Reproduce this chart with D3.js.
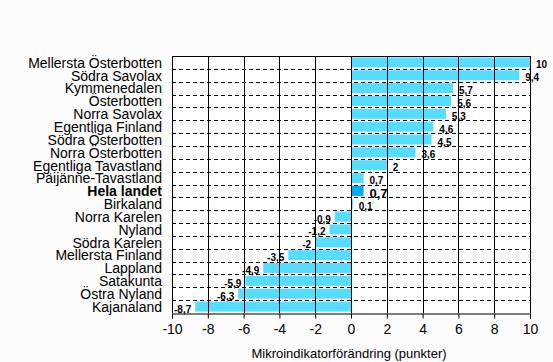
<!DOCTYPE html>
<html>
<head>
<meta charset="utf-8">
<script src="https://cdn.jsdelivr.net/npm/d3@7"></script>
<style>
  body { margin: 0; background: #fcfcfc; }
  svg { display: block; font-family: Arial, "Liberation Sans", sans-serif; }
</style>
</head>
<body>
<script>
// regions, top to bottom
let regions = ['Mellersta Österbotten', 'Södra Savolax', 'Kymmenedalen', 'Österbotten', 'Norra Savolax',
    'Egentliga Finland', 'Södra Österbotten', 'Norra Österbotten', 'Egentliga Tavastland', 'Päijänne-Tavastland',
    'Hela landet', 'Birkaland', 'Norra Karelen', 'Nyland', 'Södra Karelen', 'Mellersta Finland',
    'Lappland', 'Satakunta', 'Östra Nyland', 'Kajanaland'];
let change = [10, 9.4, 5.7, 5.6, 5.3, 4.6, 4.5, 3.6, 2, 0.7, 0.7, 0.1, -0.9, -1.2, -2, -3.5, -4.9, -5.9, -6.3, -8.7];
let xTicks = [-10, -8, -6, -4, -2, 0, 2, 4, 6, 8, 10];
let highlight = 'Hela landet';

let rows = regions.map(function (r, i) { return { name: r, value: change[i] } });

let width = 553, height = 362;
let plotLeft = 172, plotRight = 530, plotTop = 56, plotBottom = 313;

let svg = d3.select('body')
    .append('svg')
        .attr('width', width)
        .attr('height', height);

let x = d3.scaleLinear().domain([-10, 10]).range([plotLeft, plotRight]);
let y = d3.scaleBand().domain(regions).range([plotTop, plotBottom]).paddingInner(0.22).paddingOuter(0.11);
let gap = y.step() - y.bandwidth();

let fmt = function (v) { return String(v).replace('.', ',') };

// plot background
svg.append('rect')
    .attr('x', plotLeft).attr('y', plotTop)
    .attr('width', plotRight - plotLeft).attr('height', plotBottom - plotTop)
    .attr('fill', '#fff');

// dashed horizontal lines between rows
svg.append('g').selectAll('line')
    .data(regions.slice(1)).enter()
    .append('line')
        .attr('x1', plotLeft).attr('x2', plotRight)
        .attr('y1', function (d) { return Math.round(y(d) - gap / 2) + 0.5 })
        .attr('y2', function (d) { return Math.round(y(d) - gap / 2) + 0.5 })
        .attr('stroke', '#000')
        .attr('stroke-dasharray', '4,3');

// bars
svg.append('g').selectAll('rect')
    .data(rows).enter()
    .append('rect')
        .attr('x', function (d) { return x(Math.min(0, d.value)) })
        .attr('y', function (d) { return y(d.name) })
        .attr('width', function (d) { return Math.abs(x(d.value) - x(0)) })
        .attr('height', y.bandwidth())
        .attr('fill', function (d) { return d.name === highlight ? '#00aaee' : '#55dcff' });

// vertical solid grid lines
svg.append('g').selectAll('line')
    .data(xTicks).enter()
    .append('line')
        .attr('x1', function (d) { return Math.round(x(d)) + 0.5 })
        .attr('x2', function (d) { return Math.round(x(d)) + 0.5 })
        .attr('y1', plotTop).attr('y2', plotBottom)
        .attr('stroke', '#000');

// frame top
svg.append('line')
    .attr('x1', plotLeft).attr('x2', plotRight + 1)
    .attr('y1', plotTop + 0.5).attr('y2', plotTop + 0.5)
    .attr('stroke', '#000');

// x axis
let xAxis = svg.append('g')
    .attr('transform', 'translate(0,' + (plotBottom + 0.5) + ')')
    .call(d3.axisBottom(x).tickValues(xTicks).tickSize(5).tickFormat(function (d) { return d }));
xAxis.select('.domain').attr('stroke', '#000');
xAxis.selectAll('.tick line').attr('stroke', '#000');
xAxis.selectAll('.tick text')
    .attr('font-size', 14)
    .attr('fill', '#000')
    .attr('dy', '0.9em');

svg.append('text')
    .attr('x', x(0) - 2)
    .attr('y', 358)
    .attr('text-anchor', 'middle')
    .attr('font-size', 13)
    .attr('fill', '#000')
    .text('Mikroindikatorförändring (punkter)');

// category labels
svg.append('g').selectAll('text')
    .data(rows).enter()
    .append('text')
        .attr('x', 162)
        .attr('y', function (d) { return y(d.name) + y.bandwidth() / 2 })
        .attr('dy', '0.38em')
        .attr('text-anchor', 'end')
        .attr('font-size', 14)
        .attr('font-weight', function (d) { return d.name === highlight ? 'bold' : 'normal' })
        .attr('fill', '#000')
        .text(function (d) { return d.name });

// value labels
svg.append('g').selectAll('text')
    .data(rows).enter()
    .append('text')
        .attr('x', function (d) { return d.value >= 0 ? x(d.value) + 6 : x(d.value) - 4 })
        .attr('y', function (d) { return y(d.name) + y.bandwidth() + (d.name === highlight ? 2 : 1) })
        .attr('text-anchor', function (d) { return d.value >= 0 ? 'start' : 'end' })
        .attr('font-size', function (d) { return d.name === highlight ? 13 : 10 })
        .attr('font-weight', 'bold')
        .attr('fill', '#000')
        .text(function (d) { return fmt(d.value) });
</script>
</body>
</html>
